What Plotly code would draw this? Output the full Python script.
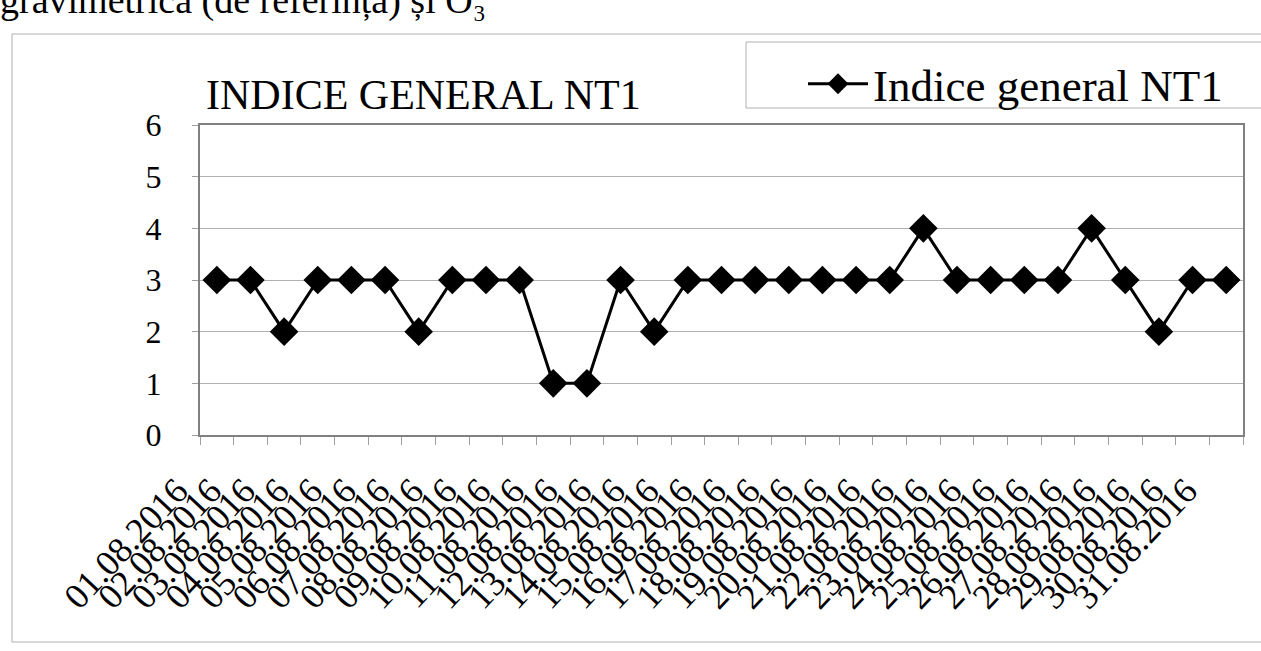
import plotly.graph_objects as go

dates = [f"{d:02d}.08.2016" for d in range(1, 32)]
values = [3, 3, 2, 3, 3, 3, 2, 3, 3, 3, 1, 1, 3, 2, 3, 3, 3, 3, 3, 3, 3, 4, 3, 3, 3, 3, 4, 3, 2, 3, 3]
series_name = "Indice general NT1"
title_text = "INDICE GENERAL NT1"
page_text = "gravimetrică (de referință) și O₃"
y_ticks = [0, 1, 2, 3, 4, 5, 6]

W, H = 1261, 651
L, R, T, B = 200, 18, 125, 216
pw, ph = W - L - R, H - T - B

def px(x):
    return (x - L) / pw

def py(y):
    return (H - B - y) / ph

FONT = "Liberation Serif"

fig = go.Figure()
fig.add_trace(go.Scatter(
    x=dates, y=values, mode="lines+markers", name=series_name,
    line=dict(color="black", width=3),
    marker=dict(symbol="diamond", size=22, color="black"),
))

fig.update_layout(
    width=W, height=H,
    margin=dict(l=L, r=R, t=T, b=B),
    paper_bgcolor="white", plot_bgcolor="white",
    font=dict(family=FONT, color="black", size=30),
    showlegend=True,
    legend=dict(x=px(803), y=py(48), xanchor="left", yanchor="top", itemwidth=60,
                font=dict(size=45, family=FONT), bgcolor="rgba(0,0,0,0)"),
    xaxis=dict(
        type="category", range=[-0.5, len(dates) - 0.5],
        tickmode="linear", dtick=1,
        showline=True, linecolor="#808080", linewidth=2, mirror=True,
        showgrid=False, ticks="outside", tickson="boundaries", ticklen=8,
        tickcolor="#a0a0a0", tickangle=-47, tickfont=dict(size=36, family=FONT),
        ticklabelshift=-40, ticklabelstandoff=18,
    ),
    yaxis=dict(
        range=[0, 6], tickvals=y_ticks, showline=True, linecolor="#808080", linewidth=2,
        mirror=True, showgrid=True, gridcolor="#b0b0b0", gridwidth=1,
        ticks="outside", ticklen=6, tickcolor="#a0a0a0",
        tickfont=dict(size=32, family=FONT), ticklabelstandoff=24, zeroline=False,
    ),
    annotations=[
        dict(text=title_text, x=px(423), y=py(95), xref="paper", yref="paper",
             showarrow=False, font=dict(size=42, family=FONT), xanchor="center", yanchor="middle"),
        dict(text=page_text, x=px(-2), y=py(24), xref="paper", yref="paper",
             showarrow=False, font=dict(size=38, family=FONT), xanchor="left", yanchor="bottom"),
    ],
    shapes=[
        dict(type="rect", xref="paper", yref="paper", x0=px(12), x1=px(1300), y0=py(642), y1=py(34),
             line=dict(color="#b0b0b0", width=1), layer="below"),
        dict(type="rect", xref="paper", yref="paper", x0=px(746), x1=px(1300), y0=py(108), y1=py(42),
             line=dict(color="#b0b0b0", width=1), layer="below"),
    ],
)

fig.write_html("out.html", config={"displayModeBar": False},
               post_script="document.body.style.margin='0';document.body.style.overflow='hidden';")
